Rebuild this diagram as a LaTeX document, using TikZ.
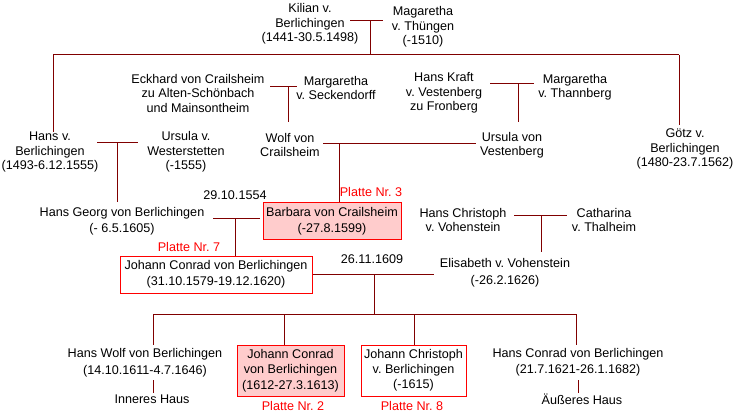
\documentclass[tikz,border=0pt]{standalone}
\usepackage{fontspec}
\setmainfont{Liberation Sans}
\frenchspacing
\definecolor{linkred}{HTML}{800000}
\definecolor{boxpink}{HTML}{FFCCCC}
\definecolor{platered}{HTML}{FF0000}
\begin{document}
\frenchspacing
\begin{tikzpicture}[x=1pt,y=-1pt,
  every node/.append style={execute at begin node=\frenchspacing},
  person/.style={align=center,inner sep=1pt,font=\fontsize{12.6}{14.5}\selectfont},
  person2/.style={person,font=\fontsize{12.6}{16.5}\selectfont},
  plate/.style={inner sep=0pt,text=platered,font=\fontsize{12.6}{14.5}\selectfont},
  datum/.style={inner sep=0pt,font=\fontsize{12.6}{14.5}\selectfont},
  redbox/.style={draw=platered,line width=1pt,align=center,inner sep=0pt,font=\fontsize{12.6}{16}\selectfont},
  link/.style={draw=linkred,line width=1pt}]
\useasboundingbox (0,0) rectangle (736,414);
% --- generation 1
\node[person] (kilian) at (310,24) {Kilian v.\\Berlichingen\\(1441-30.5.1498)};
\node[person] (thuengen) at (423,27) {Magaretha\\v. Thüngen\\(-1510)};
% --- generation 2
\node[person] (eckhard) at (198,93) {Eckhard von Crailsheim\\zu Alten-Schönbach\\und Mainsontheim};
\node[person] (seckendorff) at (336,88) {Margaretha\\v. Seckendorff};
\node[person] (kraft) at (444,93) {Hans Kraft\\v. Vestenberg\\zu Fronberg};
\node[person] (thannberg) at (575,87) {Margaretha\\v. Thannberg};
\node[person] (hans) at (50,152) {Hans v.\\Berlichingen\\(1493-6.12.1555)};
\node[person] (westerstetten) at (186,152) {Ursula v.\\Westerstetten\\(-1555)};
\node[person] (wolf) at (290,145) {Wolf von\\Crailsheim};
\node[person] (vestenberg) at (512,145) {Ursula von\\Vestenberg};
\node[person] (goetz) at (685,149) {Götz v.\\Berlichingen\\(1480-23.7.1562)};
% --- generation 3
\node[datum] (d1554) at (235,195) {29.10.1554};
\node[plate] (p3) at (371,192) {Platte Nr. 3};
\node[redbox,fill=boxpink,minimum width=138pt,minimum height=36pt] (barbara) at (332,221) {Barbara von Crailsheim\\(-27.8.1599)};
\node[person2] (hansgeorg) at (122,221) {Hans Georg von Berlichingen\\(- 6.5.1605)};
\node[plate] (p7) at (189,247) {Platte Nr. 7};
\node[redbox,fill=white,minimum width=192pt,minimum height=37pt] (jcvb) at (216,274.5) {Johann Conrad von Berlichingen\\(31.10.1579-19.12.1620)};
\node[datum] (d1609) at (372,259) {26.11.1609};
\node[person] (christoph) at (463,220) {Hans Christoph\\v. Vohenstein};
\node[person] (thalheim) at (604,220) {Catharina\\v. Thalheim};
\node[person2] (elisabeth) at (505,272.5) {Elisabeth v. Vohenstein\\(-26.2.1626)};
% --- generation 4
\node[person2] (hanswolf) at (145,362.5) {Hans Wolf von Berlichingen\\(14.10.1611-4.7.1646)};
\node[datum] (inneres) at (152,399) {Inneres Haus};
\node[redbox,fill=boxpink,minimum width=107pt,minimum height=51pt,font=\fontsize{12.6}{15.5}\selectfont] (jc2) at (290.5,370.5) {Johann Conrad\\von Berlichingen\\(1612-27.3.1613)};
\node[plate] (p2) at (293,406) {Platte Nr. 2};
\node[redbox,fill=white,minimum width=105pt,minimum height=51pt,font=\fontsize{12.6}{15}\selectfont] (jch) at (413.5,370.5) {Johann Christoph\\v. Berlichingen\\(-1615)};
\node[plate] (p8) at (412,406) {Platte Nr. 8};
\node[person2] (hansconrad) at (578,362) {Hans Conrad von Berlichingen\\(21.7.1621-26.1.1682)};
\node[datum] (aeusseres) at (582,399) {Äußeres Haus};
% --- junction coordinates
\coordinate (a1) at (350,21); \coordinate (a2) at (383,21); \coordinate (am) at (370,21);
\coordinate (ab) at (370,55); \coordinate (bl) at (53,55); \coordinate (br) at (679,55);
\coordinate (bld) at (53,132); \coordinate (brd) at (679,125);
\coordinate (c1) at (270,87); \coordinate (c2) at (297,87); \coordinate (cm) at (288,87); \coordinate (cd) at (288,122);
\coordinate (e1) at (490,84); \coordinate (e2) at (534,84); \coordinate (em) at (518,84); \coordinate (ed) at (518,122);
\coordinate (f1) at (97,143); \coordinate (f2) at (138,143); \coordinate (fm) at (117,143); \coordinate (fd) at (117,202);
\coordinate (g1) at (323,144); \coordinate (g2) at (476,144); \coordinate (gm) at (339,144);
\coordinate (h1) at (213,219); \coordinate (h2) at (260,219); \coordinate (hm) at (235,219);
\coordinate (i2) at (434,274); \coordinate (im) at (374,274); \coordinate (id) at (374,314);
\coordinate (k1) at (514,216); \coordinate (k2) at (567,216); \coordinate (km) at (541,216); \coordinate (kd) at (541,252);
\coordinate (l1) at (153,314); \coordinate (l2) at (284,314); \coordinate (l3) at (414,314); \coordinate (l4) at (576,314);
\coordinate (l1d) at (153,345); \coordinate (l4d) at (576,345);
\coordinate (m1) at (153,380); \coordinate (m1d) at (153,393);
\coordinate (m4) at (578,380); \coordinate (m4d) at (578,393);
% --- connectors
\draw[link] (a1) -- (a2) (am) -- (ab);
\draw[link] (bl) -- (br) (bl) -- (bld) (br) -- (brd);
\draw[link] (c1) -- (c2) (cm) -- (cd);
\draw[link] (e1) -- (e2) (em) -- (ed);
\draw[link] (f1) -- (f2) (fm) -- (fd);
\draw[link] (g1) -- (g2) (gm) -- (gm |- barbara.north);
\draw[link] (h1) -- (h2) (hm) -- (hm |- jcvb.north);
\draw[link] (jcvb.east |- i2) -- (i2) (im) -- (id);
\draw[link] (k1) -- (k2) (km) -- (kd);
\draw[link] (l1) -- (l4) (l1) -- (l1d) (l2) -- (l2 |- jc2.north) (l3) -- (l3 |- jch.north) (l4) -- (l4d);
\draw[link] (m1) -- (m1d) (m4) -- (m4d);
\end{tikzpicture}
\end{document}
